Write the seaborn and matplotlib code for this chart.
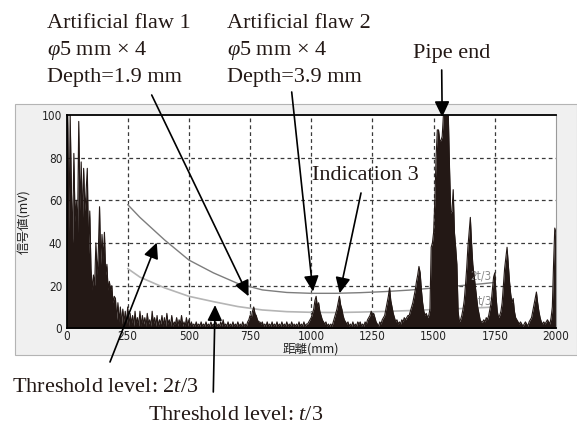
import numpy as np
import pandas as pd
import matplotlib
matplotlib.use("Agg")
import matplotlib.pyplot as plt
from matplotlib.patches import Rectangle
import seaborn as sns

# ---------------- data ----------------
step_mm = 5
signal_mV = (
    [66, 100, 45, 100, 65, 40, 82, 50, 60, 45, 97, 55, 78, 50, 75, 55, 64, 75, 35, 55] +
    [28, 18, 25, 20, 40, 25, 36, 57, 30, 44, 32, 45, 25, 30, 18, 22, 18, 20, 12, 15] +
    [14, 4, 12, 3, 10, 2, 9, 3, 8, 2, 10, 1, 7, 2, 6, 1, 8, 2, 5, 1] +
    [8, 1, 6, 2, 5, 1, 7, 2, 4, 1, 8, 2, 5, 1, 6, 1, 4, 2, 6, 1] +
    [5, 1, 7, 2, 4, 1, 6, 1, 3, 2, 5, 1, 4, 2, 6, 1, 3, 1, 5, 1] +
    [4, 1, 3, 1, 2, 1, 3, 1, 2, 1, 3, 1, 2, 1, 3, 1, 2, 1, 3, 1] +
    [2, 1, 3, 1, 2, 1, 3, 1, 4, 1, 2, 1, 3, 1, 2, 1, 3, 1, 2, 1] +
    [3, 1, 2, 1, 3, 1, 2, 1, 3, 4, 6, 5, 8, 10, 7, 6, 4, 3, 3, 2] +
    [3, 1, 2, 1, 3, 1, 2, 1, 3, 1, 2, 1, 3, 1, 2, 1, 3, 1, 2, 1] +
    [3, 1, 2, 1, 3, 1, 2, 1, 2, 1, 3, 1, 2, 1, 3, 1, 2, 2, 3, 4] +
    [5, 7, 9, 13, 15, 10, 12, 8, 6, 4, 3, 2, 3, 1, 2, 1, 2, 1, 3, 5] +
    [7, 9, 12, 15, 11, 9, 6, 4, 3, 2, 3, 1, 2, 1, 3, 1, 2, 1, 3, 2] +
    [3, 1, 2, 1, 3, 2, 4, 5, 6, 8, 6, 7, 5, 3, 2, 1, 3, 2, 4, 5] +
    [6, 9, 12, 15, 19, 13, 10, 7, 5, 3, 4, 2, 3, 2, 4, 3, 5, 4, 5, 6] +
    [6, 8, 10, 12, 15, 18, 22, 25, 29, 26, 18, 12, 8, 6, 7, 5, 6, 9, 38, 40] +
    [45, 60, 80, 93, 93, 88, 88, 90, 100, 100, 100, 100, 100, 75, 54, 55, 65, 45, 38, 30] +
    [8, 3, 4, 6, 9, 13, 20, 28, 38, 45, 52, 40, 30, 25, 20, 15, 10, 7, 4, 3] +
    [3, 4, 3, 5, 4, 6, 9, 12, 18, 24, 26, 15, 8, 5, 6, 8, 12, 20, 28, 33] +
    [38, 30, 22, 16, 12, 14, 8, 5, 4, 3, 2, 3, 2, 1, 2, 3, 2, 1, 3, 4] +
    [5, 8, 11, 14, 17, 12, 8, 5, 3, 2, 3, 2, 3, 4, 3, 2, 5, 10, 30, 47] +
    [45]
)
distance_mm = np.arange(len(signal_mV)) * step_mm

thr_distance = [250, 300, 400, 500, 600, 700, 800, 900, 1000, 1100, 1200,
                1300, 1400, 1500, 1600, 1700, 1750]
thr_2t3 = [58, 52, 41.5, 32, 26, 21, 18, 16.8, 16.4, 16.4, 16.7,
           17.2, 17.9, 18.9, 19.9, 20.9, 21.5]
thr_t3 = [28, 24, 19, 15, 12.5, 10.2, 8.6, 7.8, 7.5, 7.4, 7.6,
          7.9, 8.3, 8.8, 9.2, 9.7, 10]

x_ticks = [0, 250, 500, 750, 1000, 1250, 1500, 1750, 2000]
y_ticks = [0, 20, 40, 60, 80, 100]

sig_df = pd.DataFrame({"distance": distance_mm, "signal": signal_mV})
thr_df = pd.DataFrame({"distance": thr_distance, "2t/3": thr_2t3, "t/3": thr_t3})

# ---------------- style ----------------
sns.set_theme(style="white")
plt.rcParams["font.family"] = ["Liberation Serif", "DejaVu Sans"]
plt.rcParams["mathtext.fontset"] = "custom"
plt.rcParams["mathtext.rm"] = "Liberation Serif"
plt.rcParams["mathtext.it"] = "Liberation Serif:italic"

W, H = 577, 424
fig = plt.figure(figsize=(W / 100, H / 100), dpi=100)
fig.patch.set_facecolor("white")

# gray panel of the instrument screen
panel = Rectangle((15 / W, 1 - 355 / H), (W - 15) / W, (355 - 104) / H,
                  transform=fig.transFigure, facecolor="#f0f0f0",
                  edgecolor="#b4b4b4", lw=0.8, zorder=-5)
fig.patches.append(panel)

ax_l, ax_r, ax_t, ax_b = 66.5, 556, 115, 328.3
ax = fig.add_axes([ax_l / W, 1 - ax_b / H, (ax_r - ax_l) / W, (ax_b - ax_t) / H])
ax.set_zorder(1)
ax.set_facecolor("white")

SIG = "#231815"
# grid
for xv in x_ticks[1:-1]:
    ax.axvline(xv, color="#3a3a3a", lw=0.9, ls=(0, (3, 2.5)), zorder=1)
for yv in y_ticks[1:-1]:
    ax.axhline(yv, color="#3a3a3a", lw=0.9, ls=(0, (3, 2.5)), zorder=1)

# threshold curves
sns.lineplot(data=thr_df, x="distance", y="2t/3", ax=ax, color="#7d7d7d", lw=1.0, zorder=2)
sns.lineplot(data=thr_df, x="distance", y="t/3", ax=ax, color="#b5b5b5", lw=1.2, zorder=2)

# signal
ax.fill_between(sig_df["distance"], 0, sig_df["signal"], color=SIG, lw=0, zorder=3)
sns.lineplot(data=sig_df, x="distance", y="signal", ax=ax, color=SIG, lw=0.8,
             estimator=None, zorder=4)

ax.set_xlim(0, 2000)
ax.set_ylim(0, 100)
ax.set_xticks(x_ticks)
ax.set_yticks(y_ticks)
tick_kw = dict(fontfamily=["DejaVu Sans"], fontstretch="condensed", fontsize=8.5, color="#222222")
ax.set_xticklabels([str(v) for v in x_ticks], **tick_kw)
ax.set_yticklabels([str(v) for v in y_ticks], **tick_kw)
ax.tick_params(axis="x", length=0, pad=1.5)
ax.tick_params(axis="y", length=0, pad=3)

ax.set_xlabel("距離(mm)", fontfamily=["Noto Sans CJK JP"], fontsize=9, color="#222222")
ax.set_ylabel("信号値(mV)", fontfamily=["Noto Sans CJK JP"], fontsize=9, color="#222222")
ax.xaxis.set_label_coords(0.5, (ax_b - 349.5) / (ax_b - ax_t))
ax.yaxis.set_label_coords((25 - ax_l) / (ax_r - ax_l), 0.5)
ax.xaxis.label.set_va("center")
ax.yaxis.label.set_va("center")

for s in ["top", "left", "bottom"]:
    ax.spines[s].set_color("black")
    ax.spines[s].set_linewidth(1.3)
ax.spines["right"].set_color("#9a9a9a")
ax.spines["right"].set_linewidth(0.8)
for s in ax.spines.values():
    s.set_zorder(5)

# curve labels
ax.text(1650, 22.7, "2t/3", fontfamily=["DejaVu Sans"], fontstretch="condensed",
        fontsize=8.5, color="#8a8a8a", zorder=3.5)
ax.text(1678, 11, "t/3", fontfamily=["DejaVu Sans"], fontstretch="condensed",
        fontsize=8.5, color="#8a8a8a", zorder=3.5)

# ---------------- annotations ----------------
FS = 16


def ftext(x, y, s, **kw):
    fig.text(x / W, 1 - y / H, s, fontsize=FS, color="#231815", va="baseline", ha="left",
             zorder=10, **kw)


ftext(47, 28, "Artificial flaw 1")
ftext(47, 55, "$φ$5 mm × 4")
ftext(47, 82, "Depth=1.9 mm")
ftext(227, 28, "Artificial flaw 2")
ftext(227, 55, "$φ$5 mm × 4")
ftext(227, 82, "Depth=3.9 mm")
ftext(413, 58, "Pipe end")
ftext(312, 180.5, "Indication 3")
ftext(12, 391.5, "Threshold level: 2$t$/3")
ftext(148, 420, "Threshold level: $t$/3")

arrow_kw = dict(arrowstyle="-|>,head_length=0.95,head_width=0.45", color="black",
                lw=1.2, shrinkA=0, shrinkB=0, mutation_scale=10)
arrows = [
    ((744, 15), (151.7, 95)),
    ((1007, 17.2), (291.7, 92)),
    ((1116, 16.4), (361, 193)),
    ((1535, 99), (441.7, 70)),
    ((369, 40.2), (110, 362)),
    ((607, 10.9), (213.3, 392)),
]
for tip, start in arrows:
    an = ax.annotate("", xy=tip, xycoords="data",
                     xytext=(start[0], H - start[1]), textcoords="figure pixels",
                     arrowprops=arrow_kw, annotation_clip=False, zorder=6)
    an.set_clip_on(False)
    if an.arrow_patch is not None:
        an.arrow_patch.set_clip_on(False)

fig.savefig("out.png", dpi=100)
